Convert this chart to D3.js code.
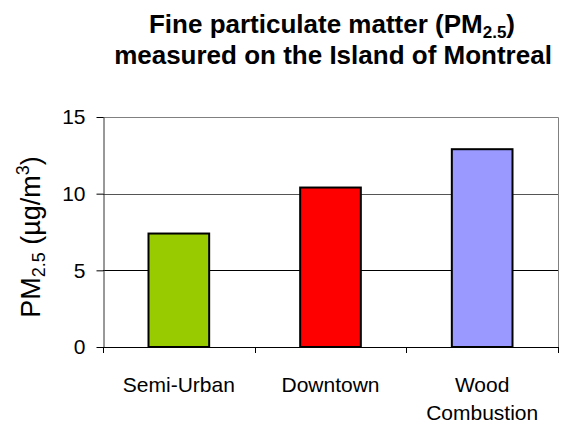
<!DOCTYPE html>
<html>
<head>
<meta charset="utf-8">
<script src="https://cdn.jsdelivr.net/npm/d3@7"></script>
<style>
  body { margin: 0; background: #fff; }
  text { font-family: "Liberation Sans", Arial, sans-serif; fill: #000; }
</style>
</head>
<body>
<div id="chart"></div>
<script>
const w = 561;
const h = 421;

const categories = ["Semi-Urban", "Downtown", "Wood Combustion"];
const values = [7.4, 10.4, 12.9];
const barColors = ["#99cc00", "#ff0000", "#9999ff"];
const yTicks = [0, 5, 10, 15];

const plot = { left: 103, right: 558, top: 117, bottom: 347 };

const svg = d3.select("#chart").append("svg").attr("width", w).attr("height", h);

const x = d3.scaleBand().domain(categories).range([plot.left, plot.right]);
const y = d3.scaleLinear().domain([0, 15]).range([plot.bottom, plot.top]);

// title, two lines, with subscript
const title = svg.append("text")
  .attr("text-anchor", "middle")
  .attr("font-weight", "bold")
  .attr("font-size", 26);
const t1 = title.append("tspan").attr("x", 332).attr("y", 33);
t1.append("tspan").text("Fine particulate matter (PM");
t1.append("tspan").attr("font-size", 17).attr("dy", 5).text("2.5");
t1.append("tspan").attr("dy", -5).text(")");
title.append("tspan").attr("x", 333).attr("y", 63.5).text("measured on the Island of Montreal");

// gridlines
svg.append("g")
  .selectAll("line")
  .data(yTicks.filter(d => d > 0 && d < 15))
  .enter()
  .append("line")
  .attr("x1", plot.left).attr("x2", plot.right)
  .attr("y1", d => Math.round(y(d)) + 0.5).attr("y2", d => Math.round(y(d)) + 0.5)
  .attr("stroke", d => d === 10 ? "#555" : "#000");

// frame top / right
svg.append("path")
  .attr("d", `M${plot.left},${plot.top + 0.5}H${plot.right + 0.5}V${plot.bottom}`)
  .attr("fill", "none")
  .attr("stroke", "#808080");

// bars
const barW = x.bandwidth() * 0.4;
svg.selectAll("rect.bar")
  .data(values)
  .enter()
  .append("rect")
  .attr("class", "bar")
  .attr("x", (d, i) => x(categories[i]) + (x.bandwidth() - barW) / 2)
  .attr("y", d => y(d))
  .attr("width", barW)
  .attr("height", d => y(0) - y(d))
  .attr("fill", (d, i) => barColors[i])
  .attr("stroke", "#000")
  .attr("stroke-width", 2);

// y axis
const yAxis = d3.axisLeft(y).tickValues(yTicks).tickSize(7).tickSizeOuter(0).tickPadding(11);
const gy = svg.append("g")
  .attr("transform", `translate(${plot.left + 0.5},0)`)
  .call(yAxis);
gy.select(".domain").attr("stroke", "#333");
gy.selectAll(".tick line").attr("stroke", "#000");
gy.selectAll(".tick text").attr("font-size", 21).attr("font-family", "Liberation Sans, Arial, sans-serif").attr("fill", "#000");

// x axis line and ticks between categories
svg.append("line")
  .attr("x1", plot.left).attr("x2", plot.right + 1)
  .attr("y1", plot.bottom + 0.5).attr("y2", plot.bottom + 0.5)
  .attr("stroke", "#000");
const bounds = categories.map(c => x(c)).concat([x.range()[1]]);
svg.append("g")
  .selectAll("line")
  .data(bounds)
  .enter()
  .append("line")
  .attr("x1", d => Math.round(d) + 0.5).attr("x2", d => Math.round(d) + 0.5)
  .attr("y1", plot.bottom).attr("y2", plot.bottom + 6)
  .attr("stroke", "#000");

// x labels, wrapped on spaces
const xl = svg.append("g")
  .selectAll("text")
  .data(categories)
  .enter()
  .append("text")
  .attr("text-anchor", "middle")
  .attr("font-size", 21)
  .attr("y", plot.bottom + 45);
xl.each(function (d) {
  const cx = x(d) + x.bandwidth() / 2;
  d.split(" ").forEach((word, k) => {
    d3.select(this).append("tspan").attr("x", cx).attr("dy", k ? 28 : 0).text(word);
  });
});

// y title
const yt = svg.append("text")
  .attr("transform", "translate(40,237) rotate(-90)")
  .attr("text-anchor", "middle")
  .attr("font-size", 27);
yt.append("tspan").text("PM");
yt.append("tspan").attr("font-size", 18).attr("dy", 5).text("2.5");
yt.append("tspan").attr("dy", -5).text(" (µg/m");
yt.append("tspan").attr("font-size", 18).attr("dy", -11).text("3");
yt.append("tspan").attr("dy", 11).text(")");
</script>
</body>
</html>
